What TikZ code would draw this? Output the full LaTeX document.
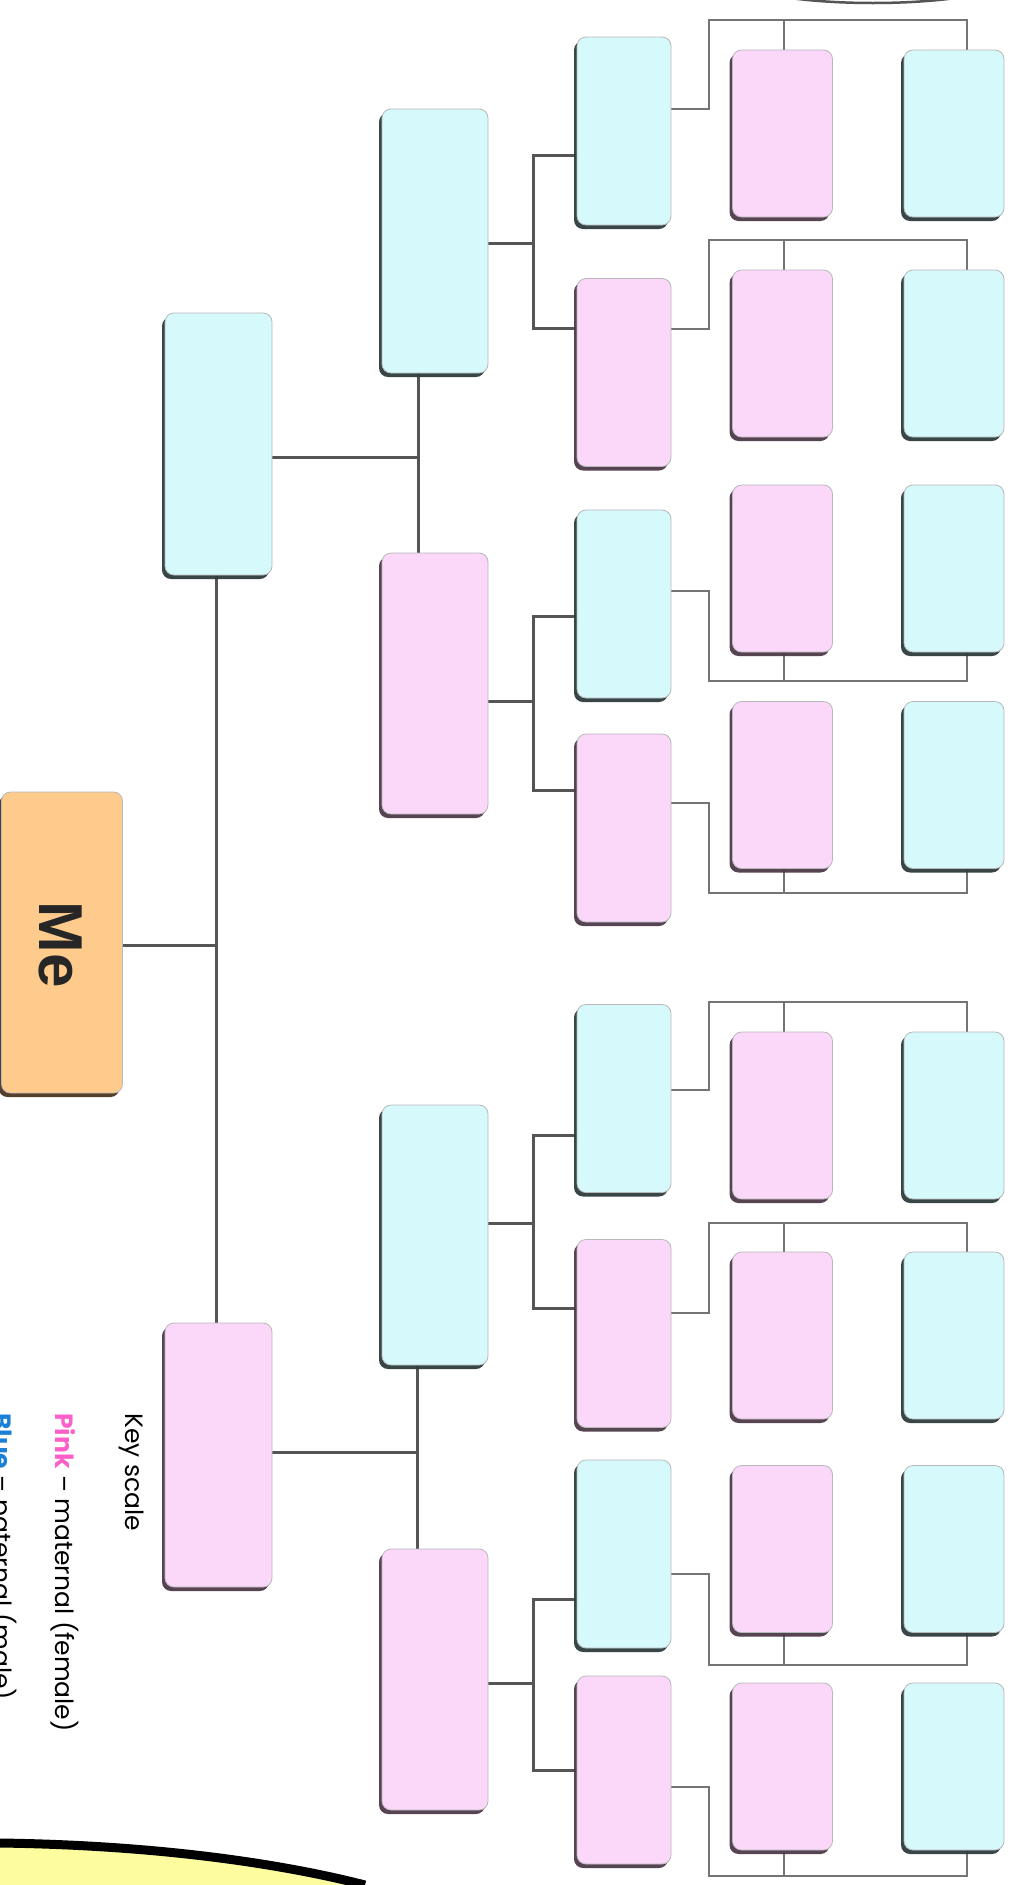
\documentclass[tikz,border=0pt]{standalone}
\usepackage{fontspec}
\newfontfamily\keyfont{Poppins}
\newfontfamily\mefont{Liberation Sans}
\usetikzlibrary{calc,shadows,backgrounds}
\definecolor{bfill}{HTML}{D6F9FC}
\definecolor{pfill}{HTML}{FBD8FA}
\definecolor{ofill}{HTML}{FFCB8C}
\definecolor{bshade}{HTML}{2E3D3E}
\definecolor{pshade}{HTML}{4E3A4A}
\definecolor{oshade}{HTML}{4A3520}
\definecolor{lnA}{HTML}{555555}
\definecolor{lnB}{HTML}{747474}
\definecolor{pinktxt}{HTML}{FF5FC8}
\definecolor{bluetxt}{HTML}{1A7FD6}
\definecolor{ylw}{HTML}{FDFDA0}
\tikzset{
  famcell/.style={rectangle, rounded corners=9pt, draw=black!28, line width=0.8pt, inner sep=0pt},
  bluecell/.style={famcell, fill=bfill, drop shadow={shadow xshift=-3pt, shadow yshift=-4pt, fill=bshade, opacity=0.95}},
  pinkcell/.style={famcell, fill=pfill, drop shadow={shadow xshift=-3pt, shadow yshift=-4pt, fill=pshade, opacity=0.95}},
  mecell/.style={famcell, fill=ofill, drop shadow={shadow xshift=-3pt, shadow yshift=-4pt, fill=oshade, opacity=0.95}},
  colone/.style={minimum width=107pt},
  coltwo/.style={minimum width=106pt},
  colthree/.style={minimum width=94pt, minimum height=188pt},
  colfour/.style={minimum width=100pt, minimum height=167pt},
  mainline/.style={draw=lnA, line width=3pt},
  thinline/.style={draw=lnB, line width=2pt},
  keytext/.style={font=\keyfont\fontsize{25}{29}\selectfont, inner sep=0pt, rotate=-90, anchor=base west},
}
\begin{document}
\begin{tikzpicture}[x=1pt, y=-1pt]
\clip (0,0) rectangle (1016,1885);
\useasboundingbox (0,0) rectangle (1016,1885);

% Me
\node[mecell, minimum width=121pt, minimum height=301pt] (Me) at (62,942.5) {};
\node[rotate=-90, inner sep=0pt, text=black!85, font=\mefont\bfseries\fontsize{62}{62}\selectfont] (metxt) at (61,945) {Me};

% parents
\node[bluecell, colone, minimum height=262pt] (P1) at (218.5,444) {};
\node[pinkcell, colone, minimum height=264pt] (P2) at (218.5,1455) {};

% grandparents
\node[bluecell, coltwo, minimum height=264pt] (G1) at (435,241) {};
\node[pinkcell, coltwo, minimum height=261pt] (G2) at (435,683.5) {};
\node[bluecell, coltwo, minimum height=260pt] (G3) at (435,1235) {};
\node[pinkcell, coltwo, minimum height=261pt] (G4) at (435,1679.5) {};

% great-grandparents
\node[bluecell, colthree] (A1) at (624,131) {};
\node[pinkcell, colthree] (A2) at (624,372.5) {};
\node[bluecell, colthree] (A3) at (624,604) {};
\node[pinkcell, colthree] (A4) at (624,828) {};
\node[bluecell, colthree] (A5) at (624,1098.5) {};
\node[pinkcell, colthree] (A6) at (624,1333.5) {};
\node[bluecell, colthree] (A7) at (624,1554) {};
\node[pinkcell, colthree] (A8) at (624,1770) {};

% great-great-grandparents
\foreach \r/\yc in {1/133.5, 2/353.5, 3/568.5, 4/785, 5/1115.5, 6/1335.5, 7/1549, 8/1766.5} {
  \node[pinkcell, colfour] (C\r) at (782.5,\yc) {};
  \node[bluecell, colfour] (B\r) at (954,\yc) {};
}

% key
\node[keytext] (keyt) at (125,1413) {Key scale};
\node[keytext] (keyp) at (55,1413) {{\bfseries\color{pinktxt}Pink} – maternal (female)};
\node[keytext] (keyb) at (-6,1413) {{\bfseries\color{bluetxt}Blue} – paternal (male)};

% decorations at the edges
\draw[lnA, line width=2.5pt] (873,-27) ellipse [x radius=150, y radius=30];
\fill[ylw] (0,1843) .. controls (150,1845) and (275,1862) .. (365,1885) -- (0,1885) -- cycle;
\draw[black, line width=9pt] (0,1843) .. controls (150,1845) and (275,1862) .. (365,1885);

\begin{pgfonlayer}{background}
  \fill[white] (0,0) rectangle (1016,1885);
  % trunk
  \coordinate (tk) at (216,945);
  \draw[mainline] (P1.south -| tk) -- (P2.north -| tk);
  \draw[mainline] (Me.east |- tk) -- (tk);
  % parents to grandparents
  \coordinate (jp1) at (418,457);
  \draw[mainline] (P1.east |- jp1) -- (jp1);
  \draw[mainline] (G1.south -| jp1) -- (G2.north -| jp1);
  \coordinate (jp2) at (417,1452);
  \draw[mainline] (P2.east |- jp2) -- (jp2);
  \draw[mainline] (G3.south -| jp2) -- (G4.north -| jp2);
  % grandparents to great-grandparents
  \foreach \g/\m/\ya/\yb/\ua/\ub in {1/243/155/328/1/2, 2/701/616/790/3/4, 3/1223/1135/1308/5/6, 4/1683/1599/1770/7/8} {
    \coordinate (gm) at (533,\m);
    \coordinate (ga) at (533,\ya);
    \coordinate (gb) at (533,\yb);
    \draw[mainline] (G\g.east |- gm) -- (gm);
    \draw[mainline, line join=miter] (A\ua.west |- ga) -- (ga) -- (gb) -- (A\ub.west |- gb);
  }
  % great-grandparents to great-great-grandparents
  \foreach \r/\c/\b/\e in {1/109/20/north, 2/329/240/north, 3/591/681/south, 4/803/893/south, 5/1090/1002/north, 6/1313/1223/north, 7/1574/1665/south, 8/1787/1876/south} {
    \coordinate (hc) at (709,\c);
    \coordinate (hb) at (709,\b);
    \coordinate (hr) at (967,\b);
    \coordinate (hp) at (784,\b);
    \draw[thinline, line join=miter] (A\r.east |- hc) -- (hc) -- (hb) -- (hr) -- (B\r.\e -| hr);
    \draw[thinline] (hp) -- (C\r.\e -| hp);
  }
\end{pgfonlayer}
\end{tikzpicture}
\end{document}
